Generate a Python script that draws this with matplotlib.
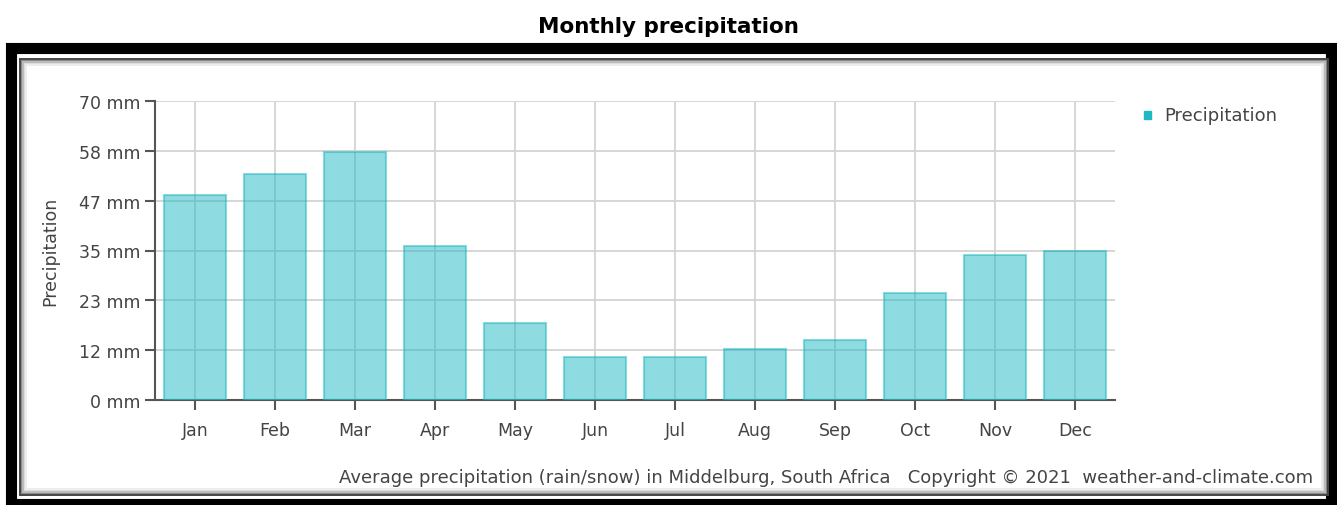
import matplotlib
matplotlib.use("Agg")
import matplotlib.pyplot as plt
from matplotlib.patches import Rectangle

months = ["Jan", "Feb", "Mar", "Apr", "May", "Jun",
          "Jul", "Aug", "Sep", "Oct", "Nov", "Dec"]
precip = [48, 53, 58, 36, 18, 10, 10, 12, 14, 25, 34, 35]
ytick_vals = [0, 70 / 6, 70 / 3, 35, 140 / 3, 350 / 6, 70]
ytick_labels = ["0 mm", "12 mm", "23 mm", "35 mm", "47 mm", "58 mm", "70 mm"]

W, H = 1337, 506
fig = plt.figure(figsize=(W / 100, H / 100), dpi=100)
fig.patch.set_facecolor("white")


def px(x, y):
    # pixel coords (from top-left) -> figure fraction
    return x / W, 1 - y / H


def frame(x0, y0, x1, y1, color, lw):
    a = px(x0, y1)
    r = Rectangle(a, (x1 - x0) / W, (y1 - y0) / H, transform=fig.transFigure,
                  fill=False, edgecolor=color, linewidth=lw, zorder=0)
    fig.patches.append(r)


# outer black frame + inner panel with a soft shadow
frame(10.5, 49, 1331, 505, "black", 8)
for i, c in enumerate(["#444444", "#888888", "#bbbbbb", "#dddddd", "#eeeeee"]):
    frame(20 + i * 1.6, 60 + i * 1.6, 1328 - i * 1.6, 496 - i * 1.6, c, 1.4)

fig.text(0.5, px(0, 27)[1], "Monthly precipitation", ha="center", va="center",
         fontsize=15.5, fontweight="bold", family=["Liberation Sans Narrow", "DejaVu Sans"])

l, t = px(155, 102)
r, b = px(1115, 401)
ax = fig.add_axes([l, b, r - l, t - b])
ax.set_facecolor("none")

x = range(len(months))
ax.bar(x, precip, width=0.78, color="#1fb9c4", alpha=0.5,
       edgecolor="#1fb5bf", linewidth=1.5, zorder=3, label="Precipitation")

ax.set_xlim(-0.5, len(months) - 0.5)
ax.set_ylim(0, 70)
ax.set_yticks(ytick_vals)
ax.set_yticklabels(ytick_labels)
ax.set_xticks(list(x))
ax.set_xticklabels(months)
ax.grid(True, color="#d3d3d3", linewidth=1.3, zorder=1)
ax.set_axisbelow(True)

for s in ["top", "right"]:
    ax.spines[s].set_visible(False)
for s in ["left", "bottom"]:
    ax.spines[s].set_color("#555555")
    ax.spines[s].set_linewidth(1.5)
ax.tick_params(axis="both", colors="#555555", labelcolor="#444444",
               labelsize=12.5, length=7, width=1.5, direction="out")
ax.tick_params(axis="x", pad=8)
ax.set_ylabel("Precipitation", fontsize=12.5, color="#444444", labelpad=14)

# legend
lx, ly = px(1147, 116)
fig.patches.append(Rectangle((lx - 3.5 / W, ly - 3.5 / H), 7 / W, 7 / H,
                             transform=fig.transFigure, color="#1fb9c4", zorder=5))
fig.text(px(1164, 0)[0], ly, "Precipitation", ha="left", va="center",
         fontsize=13, color="#444444")

fig.text(px(1313, 0)[0], px(0, 478)[1],
         "Average precipitation (rain/snow) in Middelburg, South Africa   Copyright \u00a9 2021  weather-and-climate.com",
         ha="right", va="center", fontsize=13, color="#444444")

fig.savefig("out.png", dpi=100)
